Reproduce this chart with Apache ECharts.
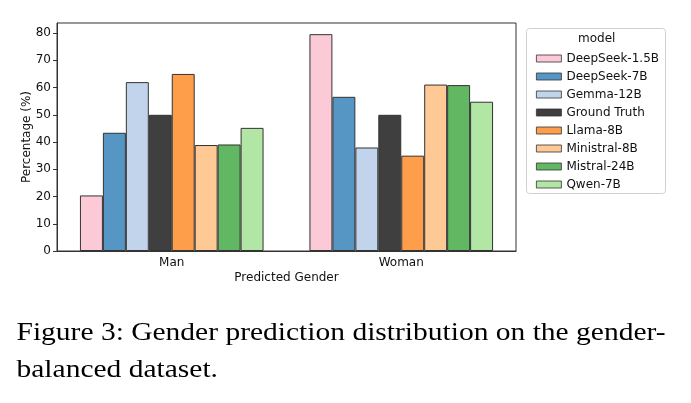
<!DOCTYPE html>
<html>
<head>
<meta charset="utf-8">
<script src="https://cdn.jsdelivr.net/npm/echarts@6/dist/echarts.min.js"></script>
<style>
  html, body { margin: 0; padding: 0; background: #fff; }
  #chart { width: 691px; height: 403px; }
</style>
</head>
<body>
<div id="chart"></div>
<script>
// data
var categories = ['Man', 'Woman'];
var models = ['DeepSeek-1.5B', 'DeepSeek-7B', 'Gemma-12B', 'Ground Truth',
              'Llama-8B', 'Ministral-8B', 'Mistral-24B', 'Qwen-7B'];
var manValues   = [20.4, 43.4, 62.0, 50.0, 65.0, 38.9, 39.1, 45.2];
var womanValues = [79.6, 56.6, 38.0, 50.0, 35.0, 61.1, 60.9, 54.8];
var yTicks = [0, 10, 20, 30, 40, 50, 60, 70, 80];
var colors = ['#fbcad6', '#5596c5', '#c2d4eb', '#3f3f3f',
              '#ff9e4a', '#ffc995', '#62b862', '#b2e6a4'];

var chart = echarts.init(document.getElementById('chart'), null, {renderer: 'canvas'});
var font = 'DejaVu Sans';

var series = models.map(function (m, i) {
    return {
        name: m,
        type: 'bar',
        data: [manValues[i], womanValues[i]],
        barGap: '0%',
        barCategoryGap: '20%',
        itemStyle: { color: colors[i], borderColor: '#333', borderWidth: 1 }
    };
});

chart.setOption({
    animation: false,
    textStyle: { fontFamily: font },
    grid: {
        left: 57, right: 175, top: 23, bottom: 152,
        show: true, borderColor: '#333', borderWidth: 1, backgroundColor: 'transparent'
    },
    xAxis: {
        type: 'category',
        data: categories,
        name: 'Predicted Gender',
        nameLocation: 'middle',
        nameGap: 21,
        nameMoveOverlap: false,
        nameTextStyle: { color: '#111', fontSize: 12, fontFamily: font },
        axisLine: { lineStyle: { color: '#333' } },
        axisTick: { alignWithLabel: true, length: 4, lineStyle: { color: '#333' } },
        axisLabel: { color: '#111', fontSize: 12, margin: 6, fontFamily: font }
    },
    yAxis: {
        type: 'value',
        min: 0,
        max: 83.7,
        name: 'Percentage (%)',
        nameLocation: 'middle',
        nameGap: 24,
        nameMoveOverlap: false,
        nameTextStyle: { color: '#111', fontSize: 12, fontFamily: font },
        axisLine: { show: true, lineStyle: { color: '#333' } },
        axisTick: { show: true, length: 4, customValues: yTicks, lineStyle: { color: '#333' } },
        axisLabel: { color: '#111', fontSize: 12, margin: 6, customValues: yTicks, fontFamily: font },
        splitLine: { show: false }
    },
    legend: {
        orient: 'vertical',
        left: 531,
        top: 47,
        data: models,
        icon: 'rect',
        itemWidth: 25,
        itemHeight: 7,
        itemGap: 5,
        itemStyle: { borderColor: '#333', borderWidth: 0.8 },
        textStyle: { color: '#111', fontSize: 12, lineHeight: 13, fontFamily: font }
    },
    graphic: [
        {
            type: 'rect', left: 526, top: 28,
            shape: { width: 139, height: 165, r: 3 },
            style: { fill: '#fff', stroke: '#d0d0d0', lineWidth: 1 },
            z: -1
        },
        {
            type: 'text', left: 578, top: 33,
            style: { text: 'model', fontSize: 12, fontFamily: font, fill: '#111' }
        },
        {
            type: 'text', x: 16.5, y: 315, scaleX: 1.18,
            style: {
                text: 'Figure 3: Gender prediction distribution on the gender-\nbalanced dataset.',
                fontSize: 25, lineHeight: 37, fontFamily: 'Liberation Serif', fill: '#000',
                verticalAlign: 'top'
            }
        }
    ],
    series: series
});
</script>
</body>
</html>
